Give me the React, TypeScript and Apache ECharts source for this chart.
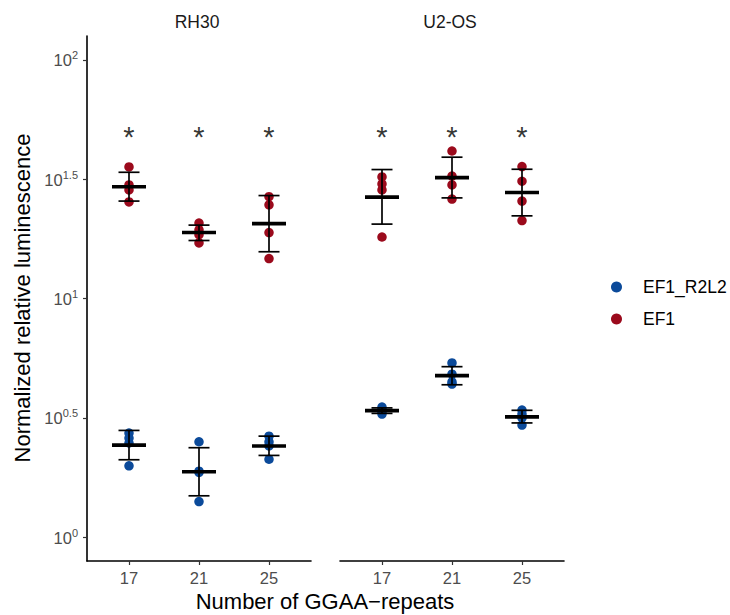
import React, { useEffect, useRef } from 'react';
import * as echarts from 'echarts';

// ---------- data ----------
const repeats = ['17', '21', '25'];
const cellLines = ['RH30', 'U2-OS'];
const constructs = ['EF1_R2L2', 'EF1'];
const constructColors = ['#0B4A9A', '#9B0A1C'];

// replicate measurements (normalized relative luminescence), one row per repeat number
const rh30EF1R2L2 = [
  [2.73, 2.6, 2.48, 1.99],
  [2.51, 1.89, 1.87, 1.41],
  [2.65, 2.51, 2.41, 2.12],
];
const rh30EF1 = [
  [35.6, 29.9, 28.5, 25.4],
  [20.7, 19.4, 18.5, 17.1],
  [26.7, 24.7, 18.9, 14.7],
];
const u2osEF1R2L2 = [
  [3.51, 3.41, 3.37, 3.28],
  [5.37, 4.82, 4.47, 4.38],
  [3.41, 3.28, 3.16, 2.95],
];
const u2osEF1 = [
  [32.3, 30.2, 28.5, 18.1],
  [41.5, 32.6, 29.9, 26.1],
  [35.7, 31.0, 25.6, 21.2],
];

// summary (mean with lower / upper error bar)
const rh30EF1R2L2Mean = [2.43, 1.88, 2.41];
const rh30EF1R2L2Lower = [2.11, 1.49, 2.2];
const rh30EF1R2L2Upper = [2.8, 2.37, 2.65];
const rh30EF1Mean = [29.4, 18.9, 20.6];
const rh30EF1Lower = [25.6, 17.5, 15.7];
const rh30EF1Upper = [33.8, 20.3, 27.0];
const u2osEF1R2L2Mean = [3.39, 4.75, 3.19];
const u2osEF1R2L2Lower = [3.3, 4.35, 3.01];
const u2osEF1R2L2Upper = [3.48, 5.18, 3.4];
const u2osEF1Mean = [26.6, 32.1, 27.8];
const u2osEF1Lower = [20.5, 26.4, 22.2];
const u2osEF1Upper = [34.7, 39.1, 34.8];

// significance marks
const sigLevel = [50, 50, 50];
const sigMarks = ['*', '*', '*'];

// y tick exponents (10^x)
const yTickExponents = [0, 0.5, 1, 1.5, 2];
const yMinExp = -0.1;
const yMaxExp = 2.1;

// ---------- chart ----------
const FONT = 'Liberation Sans, Arial, Helvetica, sans-serif';

const panels = [
  {
    points: [rh30EF1R2L2, rh30EF1],
    mean: [rh30EF1R2L2Mean, rh30EF1Mean],
    lower: [rh30EF1R2L2Lower, rh30EF1Lower],
    upper: [rh30EF1R2L2Upper, rh30EF1Upper],
  },
  {
    points: [u2osEF1R2L2, u2osEF1],
    mean: [u2osEF1R2L2Mean, u2osEF1Mean],
    lower: [u2osEF1R2L2Lower, u2osEF1Lower],
    upper: [u2osEF1R2L2Upper, u2osEF1Upper],
  },
];

const gridLefts = [87, 340];
const gridWidth = 224;
const gridTop = 36;
const gridHeight = 525;

function buildOption() {
  const grids = gridLefts.map((l) => ({ left: l, top: gridTop, width: gridWidth, height: gridHeight }));

  const xAxes = gridLefts.map((_, g) => ({
    type: 'value',
    gridIndex: g,
    min: -0.6,
    max: 2.6,
    splitLine: { show: false },
    axisLine: { show: true, onZero: false, lineStyle: { color: '#000', width: 1.6 } },
    axisTick: { show: true, length: 4, customValues: repeats.map((_, i) => i), lineStyle: { color: '#333', width: 1.2 } },
    axisLabel: {
      show: true,
      customValues: repeats.map((_, i) => i),
      formatter: (v: number) => repeats[Math.round(v)] ?? '',
      color: '#4D4D4D',
      fontSize: 16.5,
      fontFamily: FONT,
      margin: 8,
    },
  }));

  const yAxes = gridLefts.map((_, g) => ({
    type: 'value',
    gridIndex: g,
    min: yMinExp,
    max: yMaxExp,
    splitLine: { show: false },
    axisLine: { show: g === 0, onZero: false, lineStyle: { color: '#000', width: 1.6 } },
    axisTick: { show: g === 0, length: 4, customValues: yTickExponents, lineStyle: { color: '#333', width: 1.2 } },
    axisLabel: {
      show: g === 0,
      customValues: yTickExponents,
      formatter: (v: number) => `{b|10}{s|${Number(v.toFixed(1)).toString()}}`,
      margin: 9,
      fontSize: 16.5,
      color: '#4D4D4D',
      fontFamily: FONT,
      rich: {
        b: { fontSize: 16.5, color: '#4D4D4D', fontFamily: FONT, lineHeight: 18, verticalAlign: 'bottom' },
        s: { fontSize: 11, color: '#4D4D4D', fontFamily: FONT, lineHeight: 12, verticalAlign: 'bottom', padding: [0, 0, 8, 0] },
      },
    },
  }));

  const series: any[] = [];
  panels.forEach((p, g) => {
    constructs.forEach((name, c) => {
      const data: number[][] = [];
      p.points[c].forEach((vals, i) => vals.forEach((v) => data.push([i, Math.log10(v)])));
      series.push({
        type: 'scatter',
        name,
        xAxisIndex: g,
        yAxisIndex: g,
        data,
        symbol: 'circle',
        symbolSize: 9.5,
        itemStyle: { color: constructColors[c], opacity: 1 },
        z: 2,
        silent: true,
      });
    });
    const ebData: number[][] = [];
    constructs.forEach((_, c) => {
      repeats.forEach((_, i) => {
        ebData.push([i, Math.log10(p.mean[c][i]), Math.log10(p.lower[c][i]), Math.log10(p.upper[c][i])]);
      });
    });
    series.push({
      type: 'custom',
      name: 'summary',
      xAxisIndex: g,
      yAxisIndex: g,
      data: ebData,
      encode: { x: 0, y: [1, 2, 3] },
      z: 5,
      silent: true,
      renderItem: (params: any, api: any) => {
        const x = api.value(0);
        const m = api.coord([x, api.value(1)]);
        const lo = api.coord([x, api.value(2)]);
        const hi = api.coord([x, api.value(3)]);
        const thin = { stroke: '#000', lineWidth: 1.7 };
        return {
          type: 'group',
          children: [
            { type: 'line', shape: { x1: m[0], y1: lo[1], x2: m[0], y2: hi[1] }, style: thin },
            { type: 'line', shape: { x1: m[0] - 10.5, y1: lo[1], x2: m[0] + 10.5, y2: lo[1] }, style: thin },
            { type: 'line', shape: { x1: m[0] - 10.5, y1: hi[1], x2: m[0] + 10.5, y2: hi[1] }, style: thin },
            { type: 'line', shape: { x1: m[0] - 17, y1: m[1], x2: m[0] + 17, y2: m[1] }, style: { stroke: '#000', lineWidth: 3.6 } },
          ],
        };
      },
    });
    series.push({
      type: 'scatter',
      name: 'significance',
      xAxisIndex: g,
      yAxisIndex: g,
      data: sigLevel.map((v, i) => [i, Math.log10(v)]),
      symbol: 'circle',
      symbolSize: 1,
      itemStyle: { color: 'rgba(0,0,0,0)' },
      silent: true,
      z: 6,
      label: {
        show: true,
        position: 'inside',
        formatter: (p: any) => sigMarks[p.dataIndex],
        fontSize: 29,
        color: '#000',
        textBorderWidth: 0,
        fontFamily: FONT,
        offset: [0, 5],
      },
    });
  });

  return {
    animation: false,
    backgroundColor: '#fff',
    grid: grids,
    xAxis: xAxes,
    yAxis: yAxes,
    legend: {
      orient: 'vertical',
      left: 606,
      top: 273,
      data: constructs.map((n) => ({ name: n, icon: 'circle' })),
      itemWidth: 11,
      itemHeight: 11,
      itemGap: 14,
      textStyle: { fontSize: 17.5, color: '#000', fontFamily: FONT, padding: [0, 0, 0, 16] },
      selectedMode: false,
    },
    graphic: [
      { type: 'text', x: gridLefts[0] + gridWidth / 2 - 2, y: 22, style: { text: cellLines[0], font: `17.5px ${FONT}`, fill: '#1A1A1A', align: 'center', verticalAlign: 'middle' } },
      { type: 'text', x: gridLefts[1] + gridWidth / 2 - 2, y: 22, style: { text: cellLines[1], font: `17.5px ${FONT}`, fill: '#1A1A1A', align: 'center', verticalAlign: 'middle' } },
      {
        type: 'text',
        x: 22,
        y: 298,
        rotation: Math.PI / 2,
        style: { text: 'Normalized relative luminescence', font: `22px ${FONT}`, fill: '#000', align: 'center', verticalAlign: 'middle' },
      },
      {
        type: 'text',
        x: 325,
        y: 601,
        style: { text: 'Number of GGAA\u2212repeats', font: `22px ${FONT}`, fill: '#000', align: 'center', verticalAlign: 'middle' },
      },
    ],
    series,
  };
}

export default function App() {
  const ref = useRef<HTMLDivElement>(null);
  useEffect(() => {
    if (!ref.current) return;
    const chart = echarts.init(ref.current, undefined, { renderer: 'svg' });
    chart.setOption(buildOption() as any);
    return () => chart.dispose();
  }, []);
  return <div ref={ref} style={{ position: 'absolute', left: 0, top: 0, width: 730, height: 615 }} />;
}
